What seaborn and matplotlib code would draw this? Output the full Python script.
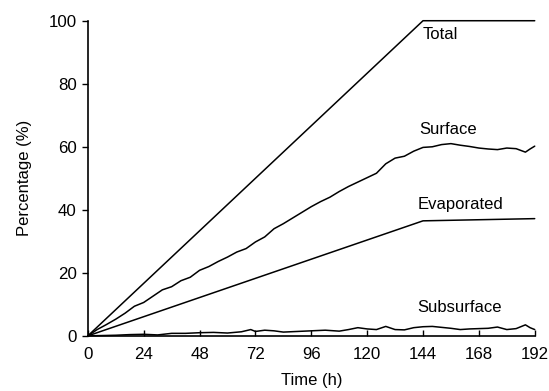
import matplotlib
matplotlib.use("Agg")
import matplotlib.pyplot as plt
import seaborn as sns
import pandas as pd

# ---- data ----
total_t = [0, 144, 192]
total_v = [0, 100, 100]

evap_t = [0, 144, 192]
evap_v = [0, 36.5, 37.2]

surface_t = [0, 4, 8, 12, 16, 20, 24, 28, 32, 36, 40, 44, 48, 52, 56, 60, 64, 68,
             72, 76, 80, 84, 88, 92, 96, 100, 104, 108, 112, 116, 120, 124, 128,
             132, 136, 140, 144, 148, 152, 156, 160, 164, 168, 172, 176, 180,
             184, 188, 190, 192]
surface_v = [0, 2.0, 3.6, 5.3, 7.2, 9.4, 10.6, 12.6, 14.6, 15.6, 17.5, 18.6, 20.8,
             22.0, 23.6, 25.0, 26.6, 27.7, 29.8, 31.4, 34.0, 35.6, 37.4, 39.2,
             41.0, 42.6, 44.0, 45.8, 47.4, 48.8, 50.2, 51.6, 54.6, 56.4, 57.0,
             58.6, 59.8, 60.0, 60.7, 61.0, 60.5, 60.1, 59.6, 59.3, 59.1, 59.6,
             59.4, 58.3, 59.3, 60.2]

subsurface_t = [0, 6, 12, 18, 24, 30, 36, 42, 48, 54, 60, 66, 70, 72, 76, 80, 84,
                90, 96, 102, 108, 112, 116, 120, 124, 128, 132, 136, 140, 144,
                148, 152, 156, 160, 164, 168, 172, 176, 180, 184, 188, 190, 192]
subsurface_v = [0, 0.1, 0.2, 0.4, 0.5, 0.3, 0.8, 0.8, 1.0, 1.1, 0.9, 1.3, 2.0,
                1.4, 1.8, 1.6, 1.2, 1.4, 1.6, 1.8, 1.5, 2.0, 2.6, 2.2, 2.0, 3.0,
                2.0, 1.9, 2.6, 2.9, 3.0, 2.7, 2.4, 2.0, 2.2, 2.3, 2.4, 2.8, 2.0,
                2.3, 3.5, 2.6, 2.0]

labels = ["Total", "Surface", "Evaporated", "Subsurface"]
label_pos = [(144, 95.5), (142.3, 65.5), (141.9, 41.6), (141.4, 8.9)]

x_ticks = [0, 24, 48, 72, 96, 120, 144, 168, 192]
y_ticks = [0, 20, 40, 60, 80, 100]

# ---- plot ----
sns.set_style("ticks", {"axes.edgecolor": "black", "text.color": "black",
                        "xtick.color": "black", "ytick.color": "black",
                        "axes.labelcolor": "black"})
plt.rcParams['font.family'] = ['Liberation Sans', 'DejaVu Sans']

fig = plt.figure(figsize=(5.49, 3.91), dpi=100)
ax = fig.add_axes([0.160, 0.141, 0.814, 0.806])

series = [(total_t, total_v), (surface_t, surface_v),
          (evap_t, evap_v), (subsurface_t, subsurface_v)]
for (t, v) in series:
    df = pd.DataFrame({"t": t, "v": v})
    sns.lineplot(data=df, x="t", y="v", ax=ax, color="black", linewidth=1.1,
                 estimator=None, sort=False, clip_on=False)

for lab, (x, y) in zip(labels, label_pos):
    ax.text(x, y, lab, fontsize=12, ha="left", va="center", color="black")

ax.set_xlim(0, 192)
ax.set_ylim(0, 100)
ax.set_xticks(x_ticks)
ax.set_yticks(y_ticks)
ax.set_xlabel("Time (h)", fontsize=12, labelpad=8, color="black")
ax.set_ylabel("Percentage (%)", fontsize=12, labelpad=12, color="black")
ax.tick_params(axis="x", direction="in", length=4.5, width=1.0, labelsize=12.2,
               pad=8, colors="black")
ax.tick_params(axis="y", direction="out", length=4, width=1.0, labelsize=12.2,
               pad=4, colors="black")
for s in ["top", "right"]:
    ax.spines[s].set_visible(False)
for s in ["left", "bottom"]:
    ax.spines[s].set_linewidth(1.2)
    ax.spines[s].set_color("black")

fig.savefig("out.png", dpi=100)
